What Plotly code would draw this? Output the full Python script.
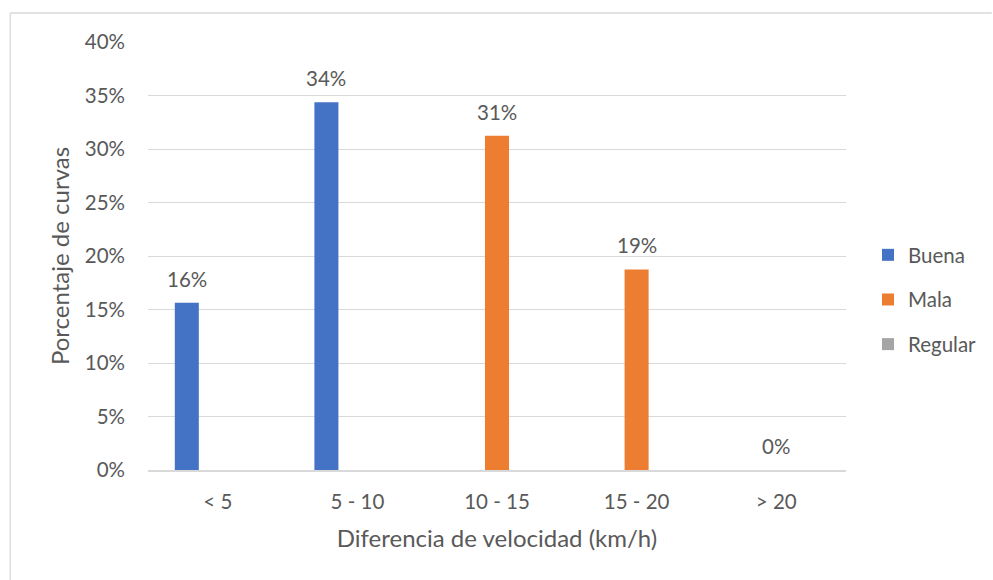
import plotly.graph_objects as go

# Data
categories = ["< 5", "5 - 10", "10 - 15", "15 - 20", "> 20"]
buena = [0.15625, 0.34375, None, None, None]
mala = [None, None, 0.3125, 0.1875, 0.0]
regular = [None, None, None, None, None]
series_names = ["Buena", "Mala", "Regular"]
series_colors = ["#4472C4", "#ED7D31", "#A5A5A5"]
y_ticks = [0, 0.05, 0.10, 0.15, 0.20, 0.25, 0.30, 0.35, 0.40]

W, H = 993, 580
L, R, T, B = 148, 146, 42, 110
plot_w = W - L - R
plot_h = H - T - B

font_family = "Lato, 'Open Sans', sans-serif"
text_color = "#595959"
grid_color = "#D9D9D9"
tick_size = 20.5
title_size = 24

# Bar geometry in category units
bar_w = 0.172
slot = 0.222
offsets = [-slot, 0.0, slot]

fig = go.Figure()
all_series = [buena, mala, regular]
for i, (name, vals, color) in enumerate(zip(series_names, all_series, series_colors)):
    fig.add_trace(go.Bar(
        x=categories, y=vals, name=name,
        marker=dict(color=color, line=dict(width=0)),
        width=bar_w, offset=offsets[i] - bar_w / 2,
        legendgroup=name,
    ))

# Value labels above each existing bar
px_per_cat = plot_w / len(categories)
annotations = []
for i, vals in enumerate(all_series):
    for cat, v in zip(categories, vals):
        if v is None:
            continue
        annotations.append(dict(
            x=cat, y=v, xref="x", yref="y",
            text=f"{v * 100:.0f}%", showarrow=False,
            xshift=offsets[i] * px_per_cat, yshift=24,
            yanchor="middle",
            font=dict(family=font_family, size=tick_size, color=text_color),
        ))

def px_x(p):
    return (p - L) / plot_w

def px_y(p):
    return (H - B - p) / plot_h

shapes = [
    dict(type="line", xref="paper", yref="paper",
         x0=px_x(10), x1=px_x(993), y0=px_y(13), y1=px_y(13),
         line=dict(color="#D9D9D9", width=1.3)),
    dict(type="line", xref="paper", yref="paper",
         x0=px_x(10), x1=px_x(10), y0=px_y(13), y1=px_y(581),
         line=dict(color="#D9D9D9", width=1.3)),
]

fig.update_layout(
    width=W, height=H,
    margin=dict(l=L, r=R, t=T, b=B),
    paper_bgcolor="white", plot_bgcolor="white",
    barmode="overlay",
    font=dict(family=font_family, size=tick_size, color=text_color),
    annotations=annotations,
    shapes=shapes,
    legend=dict(
        x=px_x(868), xanchor="left",
        y=px_y(235), yanchor="top",
        font=dict(family=font_family, size=tick_size, color=text_color),
        tracegroupgap=15,
        itemwidth=30,
        bgcolor="rgba(0,0,0,0)",
    ),
    xaxis=dict(
        type="category",
        categoryorder="array", categoryarray=categories,
        showgrid=False,
        showline=True, linecolor=grid_color, linewidth=1.5,
        ticks="", ticklabelstandoff=13,
        tickfont=dict(size=tick_size, color=text_color),
        title=dict(text="Diferencia de velocidad (km/h)",
                   font=dict(size=title_size, color=text_color), standoff=18),
        range=[-0.5, 4.5],
        fixedrange=True,
    ),
    yaxis=dict(
        range=[0, 0.4],
        tickvals=y_ticks,
        ticktext=[f"{t * 100:.0f}%" for t in y_ticks],
        showgrid=True, gridcolor=grid_color, gridwidth=1.3,
        zeroline=False, showline=False,
        ticks="", ticklabelstandoff=22,
        tickfont=dict(size=tick_size, color=text_color),
        title=dict(text="Porcentaje de curvas",
                   font=dict(size=title_size, color=text_color), standoff=8),
        fixedrange=True,
    ),
)

fig.write_html("out.html")
